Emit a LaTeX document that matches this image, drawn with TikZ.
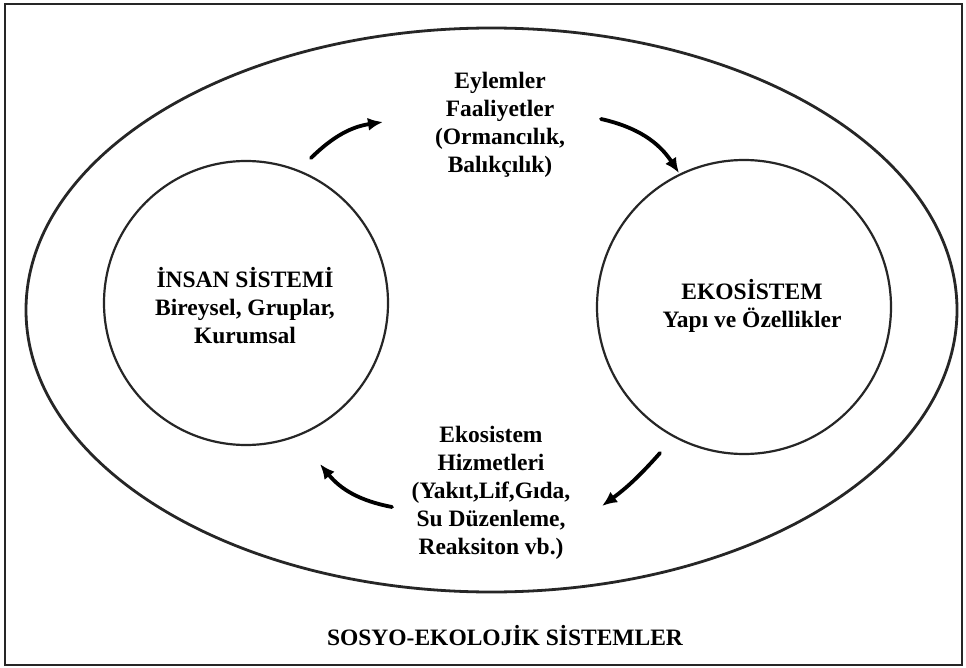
\documentclass[tikz,border=0pt]{standalone}
\usepackage{fontspec}
\setmainfont{Liberation Serif}[BoldFont={Liberation Serif Bold}]
\usetikzlibrary{arrows.meta,shapes.geometric}
\tikzset{
  lbl/.style={font=\bfseries\fontsize{23.5}{28}\selectfont, align=center, inner sep=0pt},
  ring/.style={draw=black!85, line width=2.2pt, circle, inner sep=0pt},
  flow/.style={line width=3.8pt, black, -{Latex[length=15pt,width=13pt]}, line cap=round}
}
\begin{document}
\begin{tikzpicture}[x=1pt,y=-1pt]
\useasboundingbox (0,0) rectangle (966,668);
\fill[white] (0,0) rectangle (966,668);
\draw[line width=2pt, black!85] (5,4) rectangle (962,665);
\node[draw=black!85, line width=2.8pt, ellipse, minimum width=931pt, minimum height=564pt, inner sep=0pt] (outer) at (491.5,310) {};
\node[ring, minimum size=284pt] (human) at (246,303) {};
\node[ring, minimum size=294pt] (eco) at (744,307) {};
\node[lbl] (humantxt) at (245,306) {İNSAN SİSTEMİ\\Bireysel, Gruplar,\\Kurumsal};
\node[lbl] (ecotxt) at (752,306) {EKOSİSTEM\\Yapı ve Özellikler};
\node[lbl] (acts) at (500,125) {Eylemler\\Faaliyetler\\(Ormancılık,\\Balıkçılık)};
\node[lbl] (serv) at (491,493) {Ekosistem\\Hizmetleri\\(Yakıt,Lif,Gıda,\\Su Düzenleme,\\Reaksiton vb.)};
\node[lbl] (title) at (505,636) {SOSYO-EKOLOJİK SİSTEMLER};
\coordinate (a1s) at (311,158);
\coordinate (a1e) at (383,122);
\coordinate (a2s) at (601,119);
\coordinate (a2e) at (679,173);
\coordinate (a3s) at (660,453);
\coordinate (a3e) at (602,506);
\coordinate (a4s) at (392,507);
\coordinate (a4e) at (320,464);
\draw[flow] (a1s) to[bend left=18] (a1e);
\draw[flow] (a2s) to[bend left=22] (a2e);
\draw[flow] (a3s) to[bend left=6] (a3e);
\draw[flow] (a4s) to[bend left=20] (a4e);
\end{tikzpicture}
\end{document}
